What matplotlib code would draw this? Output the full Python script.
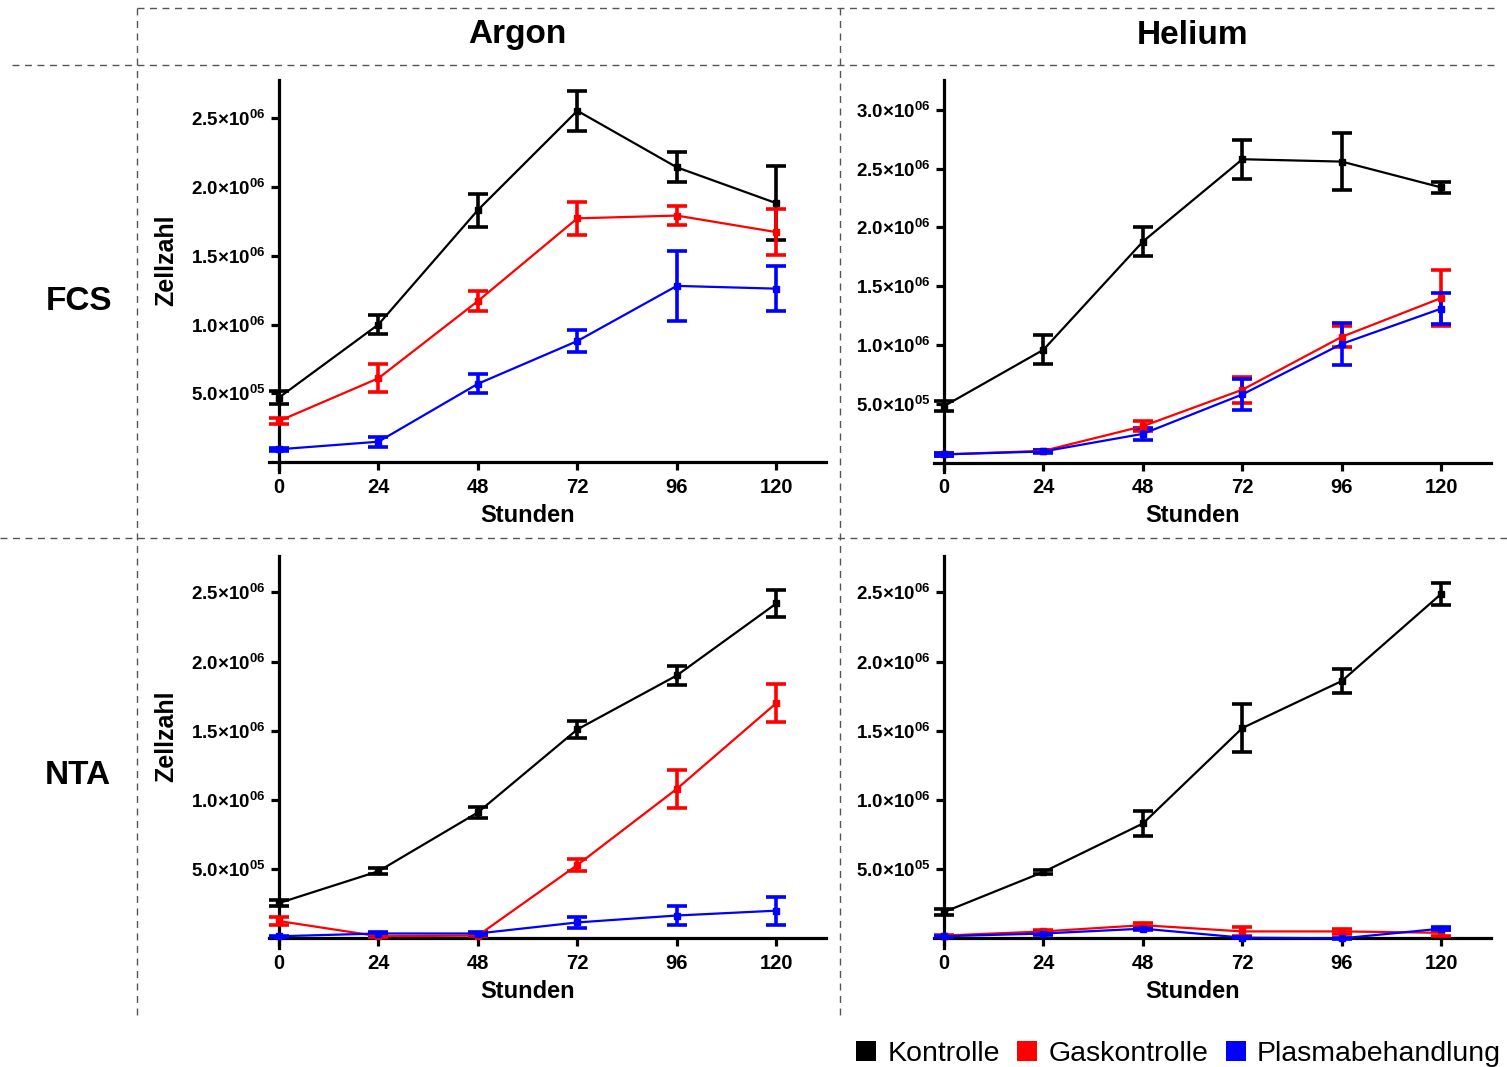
import numpy as np
import matplotlib
matplotlib.use("Agg")
import matplotlib.pyplot as plt
from matplotlib.lines import Line2D
from matplotlib.patches import Patch
from matplotlib.ticker import FuncFormatter

plt.rcParams['font.family'] = ['Liberation Sans', 'DejaVu Sans']
plt.rcParams['mathtext.fontset'] = 'custom'
plt.rcParams['mathtext.rm'] = 'Liberation Sans:bold'
plt.rcParams['mathtext.bf'] = 'Liberation Sans:bold'
plt.rcParams['mathtext.it'] = 'Liberation Sans:bold:italic'

# data: cell counts (mean, error) per panel
hours = [0, 24, 48, 72, 96, 120]
series_names = ["Kontrolle", "Gaskontrolle", "Plasmabehandlung"]
series_colors = ["black", "#ff0000", "#0000ff"]

# Argon / FCS
ar_fcs_kontrolle = [4.7e5, 1.0e6, 1.83e6, 2.55e6, 2.14e6, 1.88e6]
ar_fcs_kontrolle_err = [5e4, 7e4, 1.2e5, 1.45e5, 1.1e5, 2.7e5]
ar_fcs_gas = [3.0e5, 6.1e5, 1.17e6, 1.77e6, 1.79e6, 1.67e6]
ar_fcs_gas_err = [2.5e4, 1.0e5, 7e4, 1.2e5, 7e4, 1.65e5]
ar_fcs_plasma = [9.5e4, 1.5e5, 5.7e5, 8.8e5, 1.28e6, 1.26e6]
ar_fcs_plasma_err = [1e4, 3.5e4, 7e4, 8e4, 2.55e5, 1.65e5]

# Helium / FCS
he_fcs_kontrolle = [4.8e5, 9.6e5, 1.88e6, 2.58e6, 2.56e6, 2.34e6]
he_fcs_kontrolle_err = [4e4, 1.25e5, 1.2e5, 1.65e5, 2.4e5, 5e4]
he_fcs_gas = [7e4, 1.0e5, 3.1e5, 6.2e5, 1.07e6, 1.40e6]
he_fcs_gas_err = [1e4, 1e4, 4e4, 1.1e5, 9e4, 2.4e5]
he_fcs_plasma = [7e4, 9.5e4, 2.45e5, 5.8e5, 1.01e6, 1.31e6]
he_fcs_plasma_err = [1e4, 1e4, 5e4, 1.3e5, 1.8e5, 1.3e5]

# Argon / NTA
ar_nta_kontrolle = [2.55e5, 4.85e5, 9.1e5, 1.51e6, 1.9e6, 2.42e6]
ar_nta_kontrolle_err = [2e4, 2e4, 4e4, 6e4, 7e4, 1.0e5]
ar_nta_gas = [1.25e5, 1.5e4, 2e4, 5.3e5, 1.08e6, 1.70e6]
ar_nta_gas_err = [3e4, 5e3, 5e3, 4e4, 1.4e5, 1.35e5]
ar_nta_plasma = [1.5e4, 3.5e4, 3.5e4, 1.15e5, 1.65e5, 2.0e5]
ar_nta_plasma_err = [5e3, 1e4, 1e4, 4e4, 7e4, 1.0e5]

# Helium / NTA
he_nta_kontrolle = [1.9e5, 4.8e5, 8.3e5, 1.52e6, 1.86e6, 2.49e6]
he_nta_kontrolle_err = [2e4, 1.5e4, 9e4, 1.7e5, 9e4, 8e4]
he_nta_gas = [2e4, 5e4, 9.5e4, 5e4, 5e4, 4e4]
he_nta_gas_err = [5e3, 1e4, 1.5e4, 3e4, 2e4, 2e4]
he_nta_plasma = [1.5e4, 3.5e4, 7e4, 5e3, 0.0, 7e4]
he_nta_plasma_err = [5e3, 1e4, 1e4, 5e3, 5e3, 1e4]

panels = [
    ([ar_fcs_kontrolle, ar_fcs_gas, ar_fcs_plasma],
     [ar_fcs_kontrolle_err, ar_fcs_gas_err, ar_fcs_plasma_err], 2.77e6, 0.07e6),
    ([he_fcs_kontrolle, he_fcs_gas, he_fcs_plasma],
     [he_fcs_kontrolle_err, he_fcs_gas_err, he_fcs_plasma_err], 3.25e6, 0.08e6),
    ([ar_nta_kontrolle, ar_nta_gas, ar_nta_plasma],
     [ar_nta_kontrolle_err, ar_nta_gas_err, ar_nta_plasma_err], 2.76e6, 0.07e6),
    ([he_nta_kontrolle, he_nta_gas, he_nta_plasma],
     [he_nta_kontrolle_err, he_nta_gas_err, he_nta_plasma_err], 2.76e6, 0.07e6),
]

fig = plt.figure(figsize=(15.07, 10.67), dpi=100)

lefts = [0.1785, 0.6198]
bottoms = [0.5576, 0.1115]
w, h = 0.3696, 0.367
xmin, xmax = -2.4, 132


def sci_fmt(v, pos):
    if v <= 0:
        return ""
    e = int(np.floor(np.log10(v)))
    m = v / 10 ** e
    return "%.1f\u00d710$^{%02d}$" % (m, e)


for k, (vals, errs, ytop, ybot) in enumerate(panels):
    row, col = divmod(k, 2)
    ax = fig.add_axes([lefts[col], bottoms[row], w, h])
    for v, e, c in zip(vals, errs, series_colors):
        ax.errorbar(hours, v, yerr=e, color=c, lw=1.6, elinewidth=2.6,
                    capsize=7.5, capthick=2.6, marker='s', markersize=4.5, zorder=3)
    ax.set_xlim(xmin, xmax)
    ax.set_ylim(-ybot, ytop)
    for s in ['top', 'right']:
        ax.spines[s].set_visible(False)
    ax.spines['left'].set_position(('data', 0))
    ax.spines['bottom'].set_position(('data', 0))
    ax.spines['left'].set_linewidth(2.3)
    ax.spines['bottom'].set_linewidth(2.3)
    ax.set_xticks(hours)
    ax.set_yticks(np.arange(5e5, ytop, 5e5))
    ax.yaxis.set_major_formatter(FuncFormatter(sci_fmt))
    ax.tick_params(axis='both', width=2.3, length=6)
    ax.tick_params(axis='x', pad=5, labelsize=14.5)
    ax.tick_params(axis='y', pad=4, labelsize=13.5)
    for lab in ax.get_xticklabels() + ax.get_yticklabels():
        lab.set_fontweight('bold')
    ax.set_xlabel("Stunden", fontsize=17, fontweight='bold')
    ax.xaxis.set_label_coords((60 - xmin) / (xmax - xmin), -0.082)
    if col == 0:
        ax.set_ylabel("Zellzahl", fontsize=18, fontweight='bold')
        ax.yaxis.set_label_coords(-0.163, 0.54)

# table-like frame
dash = dict(color='#555555', lw=1.0, linestyle=(0, (5, 4)), transform=fig.transFigure)
fig.add_artist(Line2D([137 / 1507, 1497 / 1507], [1 - 8 / 1067] * 2, **dash))
fig.add_artist(Line2D([12 / 1507, 1495 / 1507], [1 - 65 / 1067] * 2, **dash))
fig.add_artist(Line2D([0, 1], [1 - 538 / 1067] * 2, **dash))
fig.add_artist(Line2D([137 / 1507] * 2, [1 - 8 / 1067, 1 - 1017 / 1067], **dash))
fig.add_artist(Line2D([840 / 1507] * 2, [1 - 8 / 1067, 1 - 1017 / 1067], **dash))

fig.text(517 / 1507, 1 - 35 / 1067, "Argon", fontsize=24, fontweight='bold', ha='center', va='center')
fig.text(1193 / 1507, 1 - 35 / 1067, "Helium", fontsize=24, fontweight='bold', ha='center', va='center')
fig.text(79 / 1507, 1 - 302 / 1067, "FCS", fontsize=24, fontweight='bold', ha='center', va='center')
fig.text(78 / 1507, 1 - 776 / 1067, "NTA", fontsize=24, fontweight='bold', ha='center', va='center')

handles = [Patch(facecolor=c, edgecolor='none') for c in series_colors]
fig.legend(handles, series_names, loc='lower right', bbox_to_anchor=(1.013, -0.024),
           ncol=3, frameon=False, fontsize=20.5, handlelength=0.7, handleheight=0.7,
           handletextpad=0.4, columnspacing=0.6)

fig.savefig("out.png", dpi=100)
